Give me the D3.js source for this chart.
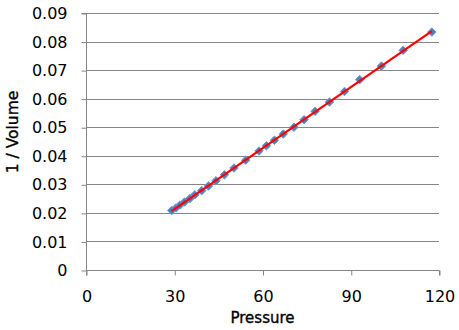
<!DOCTYPE html>
<html>
<head>
<meta charset="utf-8">
<script src="https://cdn.jsdelivr.net/npm/d3@7"></script>
<style>
  html, body { margin: 0; padding: 0; background: #fff; }
  svg { display: block; }
  text { font-family: "DejaVu Sans", Verdana, sans-serif; fill: #000; }
</style>
</head>
<body>
<svg id="chart" width="459" height="330"></svg>
<script>
// Boyle's J-tube measurements: pressure (inches Hg) against gas volume
const pressure = [29.125, 30.5625, 31.9375, 33.5, 35.3125, 37.0, 39.3125, 41.625,
  44.1875, 47.0625, 50.3125, 54.3125, 58.8125, 61.3125, 64.0625, 67.0625,
  70.6875, 74.125, 77.875, 82.75, 87.875, 93.0625, 100.4375, 107.8125, 117.5625];
const volume = [48, 46, 44, 42, 40, 38, 36, 34, 32, 30, 28, 26, 24, 23, 22, 21,
  20, 19, 18, 17, 16, 15, 14, 13, 12];
const xTicks = [0, 30, 60, 90, 120];
const yTicks = [0, 0.01, 0.02, 0.03, 0.04, 0.05, 0.06, 0.07, 0.08, 0.09];

const points = pressure.map((p, i) => ({ x: p, y: 1 / volume[i] }));

const svg = d3.select("#chart");
const plot = { left: 86, right: 439, top: 13, bottom: 270 };

const x = d3.scaleLinear().domain([0, 120]).range([plot.left, plot.right]);
const y = d3.scaleLinear().domain([0, 0.09]).range([plot.bottom, plot.top]);

const grey = "#868686";

// horizontal gridlines
svg.append("g").selectAll("line").data(yTicks.filter(d => d > 0)).join("line")
  .attr("x1", plot.left).attr("x2", plot.right)
  .attr("y1", d => Math.round(y(d)) + 0.5).attr("y2", d => Math.round(y(d)) + 0.5)
  .attr("stroke", grey).attr("stroke-width", 1);

// y axis
const yAxis = svg.append("g")
  .attr("transform", `translate(${plot.left + 0.5},0.5)`)
  .call(d3.axisLeft(y).tickValues(yTicks).tickSize(5).tickPadding(14)
    .tickFormat(d => d === 0 ? "0" : d3.format(".2f")(d)));
yAxis.selectAll("path, line").attr("stroke", grey);
yAxis.select(".domain").attr("d", `M-5,${y(0.09)}H0V${y(0)}`);
yAxis.selectAll("text").style("font-size", "16px").attr("font-family", null);

// x axis
const xAxis = svg.append("g")
  .attr("transform", `translate(0.5,${plot.bottom + 0.5})`)
  .call(d3.axisBottom(x).tickValues(xTicks).tickSize(5).tickPadding(15));
xAxis.selectAll("path, line").attr("stroke", grey);
xAxis.select(".domain").attr("d", `M${x(0)},5V0H${x(120)}V5`);
xAxis.selectAll("text").style("font-size", "16px").attr("font-family", null);

// axis titles
svg.append("text")
  .attr("x", (plot.left + plot.right) / 2).attr("y", 323)
  .attr("text-anchor", "middle")
  .style("font-size", "15px")
  .attr("stroke", "#000").attr("stroke-width", 0.35)
  .text("Pressure");

svg.append("text")
  .attr("transform", "translate(18,132) rotate(-90)")
  .attr("text-anchor", "middle")
  .style("font-size", "15.5px")
  .attr("stroke", "#000").attr("stroke-width", 0.35)
  .text("1 / Volume");

// data markers
const diamond = d3.symbol().type(d3.symbolDiamond2).size(46);
svg.append("g").selectAll("path").data(points).join("path")
  .attr("d", diamond)
  .attr("transform", d => `translate(${x(d.x)},${y(d.y)})`)
  .attr("fill", "#4F81BD")
  .attr("stroke", "#6E9BD3").attr("stroke-width", 1);

// least-squares linear trendline over the measured range
const mx = d3.mean(points, d => d.x), my = d3.mean(points, d => d.y);
const slope = d3.sum(points, d => (d.x - mx) * (d.y - my)) / d3.sum(points, d => (d.x - mx) ** 2);
const intercept = my - slope * mx;
const [x0, x1] = d3.extent(pressure);
svg.append("line")
  .attr("x1", x(x0)).attr("y1", y(slope * x0 + intercept))
  .attr("x2", x(x1)).attr("y2", y(slope * x1 + intercept))
  .attr("stroke", "#FF0000").attr("stroke-width", 2.25);
</script>
</body>
</html>
